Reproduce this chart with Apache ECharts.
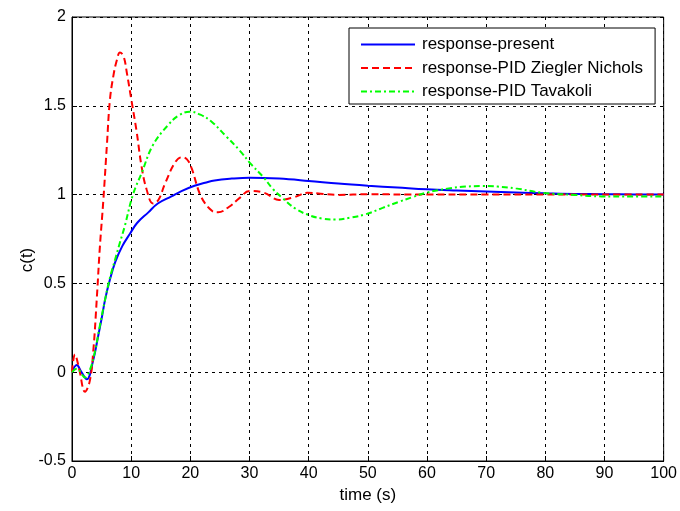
<!DOCTYPE html>
<html>
<head>
<meta charset="utf-8">
<script src="https://cdn.jsdelivr.net/npm/echarts@6/dist/echarts.min.js"></script>
<style>html,body{margin:0;padding:0;background:#fff}#c{width:680px;height:511px}</style>
</head>
<body>
<div id="c"></div>
<script>
var seriesNames = ['response-present', 'response-PID Ziegler Nichols', 'response-PID Tavakoli'];

var presentT = [0, 0.8, 1.6, 2.5, 3.6, 4.4, 5, 5.6, 6.4, 7.3, 8.5, 9.8, 11, 12.9, 14.5, 16.8, 18.5, 20.7, 22.5, 24.1, 27, 30, 35, 40, 45, 50, 55, 60, 65, 70, 75, 80, 85, 90, 95, 100];
var presentV = [0, 0.04, 0.0, -0.04, 0.07, 0.2, 0.3, 0.41, 0.52, 0.62, 0.71, 0.78, 0.84, 0.90, 0.95, 0.99, 1.02, 1.05, 1.067, 1.08, 1.09, 1.095, 1.09, 1.077, 1.062, 1.05, 1.04, 1.03, 1.023, 1.017, 1.012, 1.007, 1.004, 1.002, 1.001, 1.0];

var zieglerT = [0, 0.5, 1.2, 2.2, 3, 3.6, 4.2, 4.7, 5.3, 5.9, 6.4, 7, 7.6, 8.1, 8.7, 9.3, 10.05, 10.9, 11.75, 12.6, 13.7, 14.6, 15.7, 17.4, 18.5, 19.4, 20.2, 21.8, 23.6, 24.7, 26.5, 28.3, 30, 32.5, 35, 37.5, 39.8, 42, 45, 50, 60, 70, 80, 90, 100];
var zieglerV = [0, 0.1, 0.02, -0.11, -0.05, 0.12, 0.42, 0.7, 0.97, 1.28, 1.53, 1.67, 1.76, 1.8, 1.78, 1.68, 1.53, 1.36, 1.16, 1.03, 0.95, 0.97, 1.06, 1.18, 1.21, 1.2, 1.15, 0.99, 0.91, 0.90, 0.93, 0.98, 1.02, 1.01, 0.97, 0.985, 1.01, 1.005, 0.998, 1.002, 1.0, 1.0, 1.0, 1.0, 1.0];

var tavakoliT = [0, 0.8, 2.2, 3.1, 3.9, 4.7, 5.6, 6.4, 7.25, 8.1, 8.9, 10.3, 11.75, 13.7, 16.2, 18, 19.9, 21.7, 23.6, 26, 28.3, 30.3, 32.3, 34, 35.6, 37.8, 40, 42.3, 44.6, 47, 49.7, 52.5, 55.3, 57.5, 59.8, 63.7, 66.5, 69.4, 72, 75, 79.5, 85, 89.5, 95, 100];
var tavakoliV = [0, 0.02, -0.03, 0.02, 0.12, 0.26, 0.41, 0.53, 0.63, 0.73, 0.82, 1.0, 1.12, 1.28, 1.39, 1.445, 1.467, 1.45, 1.41, 1.33, 1.25, 1.17, 1.10, 1.03, 0.98, 0.92, 0.885, 0.865, 0.86, 0.87, 0.89, 0.925, 0.96, 0.985, 1.01, 1.035, 1.045, 1.048, 1.045, 1.035, 1.01, 0.998, 0.99, 0.99, 0.99];

var xTicks = {min: 0, max: 100, interval: 10};
var yTicks = {min: -0.5, max: 2, interval: 0.5};

function pairs(t, v) { return t.map(function (x, i) { return [x, v[i]]; }); }

var FONT = '"Liberation Sans", Arial, sans-serif';
var chart = echarts.init(document.getElementById('c'), null, {renderer: 'canvas'});
chart.setOption({
  backgroundColor: '#fff',
  animation: false,
  grid: {left: 72, right: 15, top: 17, bottom: 50, show: true, borderColor: '#000', borderWidth: 1, backgroundColor: 'transparent'},
  legend: {
    orient: 'vertical', left: 349, top: 28,
    data: seriesNames,
    itemWidth: 54, itemHeight: 14, itemGap: 6.5,
    padding: [8, 12, 4, 11],
    itemStyle: {opacity: 0},
    backgroundColor: '#fff', borderColor: '#000', borderWidth: 1, borderRadius: 0,
    textStyle: {fontFamily: FONT, fontSize: 17, color: '#000', padding: [0, 0, 0, 2]}
  },
  graphic: [{
    type: 'text',
    rotation: Math.PI / 2,
    x: 27, y: 260,
    style: {text: 'c(t)', font: '17px "Liberation Sans", Arial, sans-serif', fill: '#000', align: 'center', verticalAlign: 'middle'}
  }],
  xAxis: {
    type: 'value', min: xTicks.min, max: xTicks.max, interval: xTicks.interval,
    name: 'time (s)', nameLocation: 'middle', nameGap: 24,
    nameTextStyle: {fontFamily: FONT, fontSize: 17, color: '#000'},
    axisLine: {show: true, onZero: false, lineStyle: {color: '#000', width: 1}},
    axisTick: {show: true, inside: true, length: 5, lineStyle: {color: '#000'}},
    axisLabel: {fontFamily: FONT, fontSize: 16, color: '#000', margin: 5},
    splitLine: {show: true, lineStyle: {color: '#000', type: [3, 4], width: 1}}
  },
  yAxis: {
    type: 'value', min: yTicks.min, max: yTicks.max, interval: yTicks.interval,
    axisLine: {show: true, onZero: false, lineStyle: {color: '#000', width: 1}},
    axisTick: {show: true, inside: true, length: 5, lineStyle: {color: '#000'}},
    axisLabel: {fontFamily: FONT, fontSize: 16, color: '#000', margin: 6},
    splitLine: {show: true, lineStyle: {color: '#000', type: [3, 4], width: 1}}
  },
  series: [
    {name: seriesNames[0], type: 'line', data: pairs(presentT, presentV), smooth: 0.4, symbol: 'none', z: 3,
     lineStyle: {color: '#0000ff', width: 2, type: 'solid'}, itemStyle: {color: '#0000ff'}},
    {name: seriesNames[1], type: 'line', data: pairs(zieglerT, zieglerV), smooth: 0.4, symbol: 'none', z: 4,
     lineStyle: {color: '#ff0000', width: 2, type: [7, 4]}, itemStyle: {color: '#ff0000'}},
    {name: seriesNames[2], type: 'line', data: pairs(tavakoliT, tavakoliV), smooth: 0.4, symbol: 'none', z: 5,
     lineStyle: {color: '#00ff00', width: 2, type: [6, 3, 2, 3]}, itemStyle: {color: '#00ff00'}}
  ]
});
</script>
</body>
</html>
